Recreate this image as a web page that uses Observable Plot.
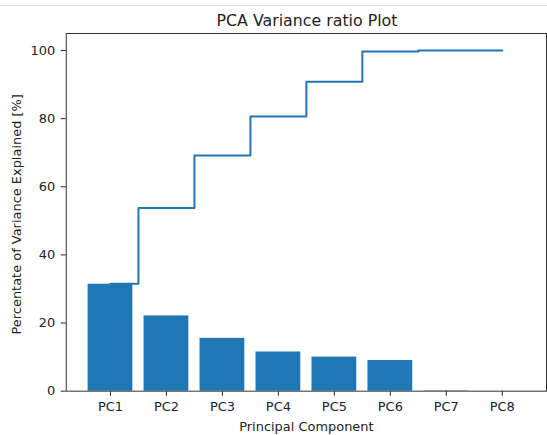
<!DOCTYPE html>
<html>
<head>
<meta charset="utf-8">
<script src="https://cdn.jsdelivr.net/npm/d3@7"></script>
<script src="https://cdn.jsdelivr.net/npm/@observablehq/plot@0.6"></script>
<style>
  html, body { margin: 0; padding: 0; background: #fff; overflow: hidden; width: 547px; height: 435px; }
  #topline { position: absolute; left: 0; top: 5px; width: 547px; height: 1px; background: #e2e2e2; }
  #title { margin-left: 66px; width: 482px; height: 30px; box-sizing: border-box; padding-top: 12.6px;
           font-family: "DejaVu Sans", sans-serif; font-size: 15.8px; line-height: 15.8px; text-align: center; color: #222; white-space: nowrap; }
  #chart svg { display: block; overflow: hidden; }
</style>
</head>
<body>
<div id="topline"></div>
<div id="title">PCA Variance ratio Plot</div>
<div id="chart"></div>
<script>
const categories = ["PC1", "PC2", "PC3", "PC4", "PC5", "PC6", "PC7", "PC8"];
const varianceRatio = [31.4, 22.1, 15.5, 11.5, 10.0, 9.0, 0.1, 0.0];
const cumulativeVariance = [31.5, 53.8, 69.2, 80.6, 90.8, 99.7, 100.0, 100.0];
const yTicks = [0, 20, 40, 60, 80, 100];
const xLabel = "Principal Component";
const yLabel = "Percentate of Variance Explained [%]";

const data = categories.map((name, i) => ({ i, name, v: varianceRatio[i], c: cumulativeVariance[i] }));

const chart = Plot.plot({
  width: 549,
  height: 405,
  marginTop: 3,
  marginBottom: 43,
  marginLeft: 66,
  marginRight: 1,
  style: { fontFamily: "DejaVu Sans", fontSize: "13px", color: "#222", background: "white" },
  x: {
    domain: [-0.79, 7.79],
    ticks: d3.range(categories.length),
    tickFormat: i => categories[i],
    tickSize: 5,
    tickPadding: 6,
    label: null
  },
  y: {
    domain: [0, 105],
    ticks: yTicks,
    tickSize: 5,
    tickPadding: 6,
    label: null
  },
  marks: [
    Plot.rectY(data, { x1: d => d.i - 0.4, x2: d => d.i + 0.4, y: "v", fill: "#1f77b4" }),
    Plot.lineY(data, { x: "i", y: "c", curve: "step", stroke: "#1f77b4", strokeWidth: 2 }),
    Plot.frame({ stroke: "#333" }),
    Plot.text([xLabel], { text: d => d, frameAnchor: "bottom", textAnchor: "middle", lineAnchor: "middle", dy: 36, fontSize: 13, fill: "#222" }),
    Plot.text([yLabel], { text: d => d, frameAnchor: "left", textAnchor: "middle", lineAnchor: "middle", rotate: -90, dx: -49.5, dy: 2, fontSize: 13, fill: "#222" })
  ]
});
document.getElementById("chart").appendChild(chart);
</script>
</body>
</html>
